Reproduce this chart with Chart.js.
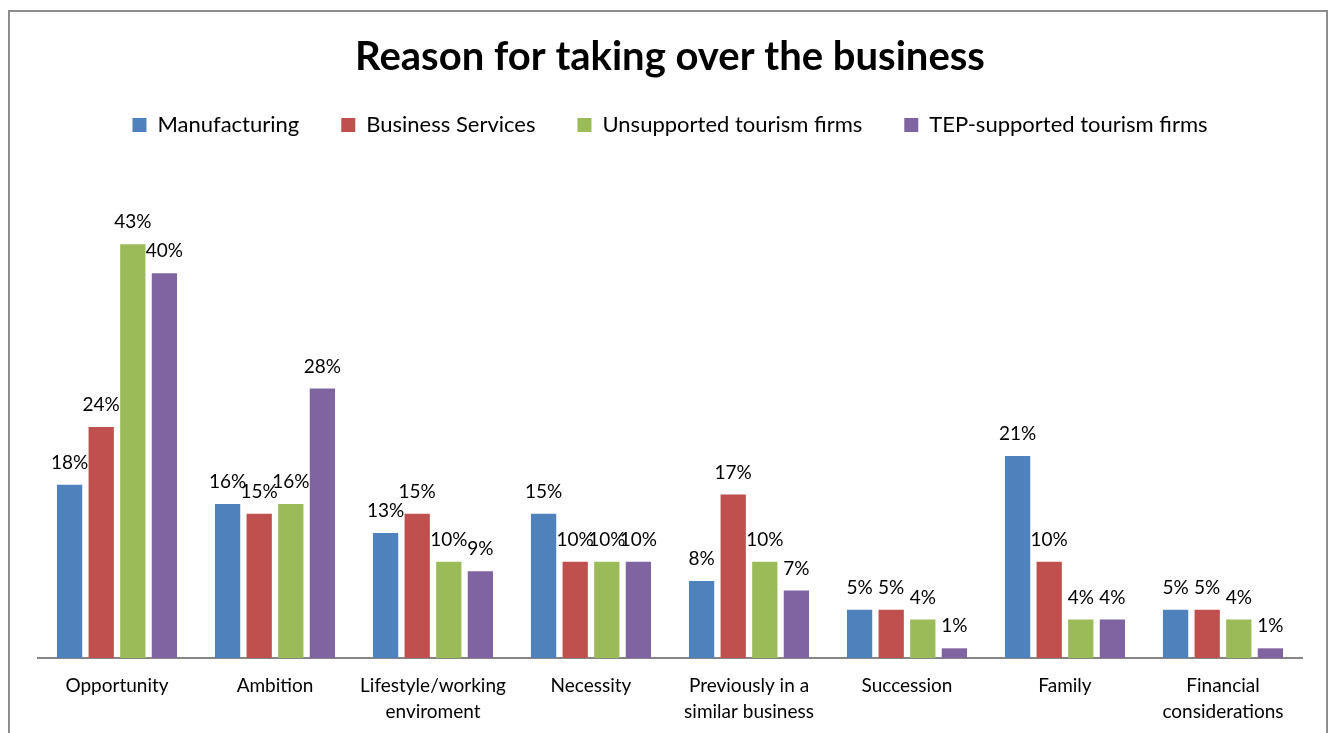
<!DOCTYPE html>
<html>
<head>
<meta charset="utf-8">
<script src="https://cdn.jsdelivr.net/npm/chart.js@4/dist/chart.umd.min.js"></script>
<style>
  html, body { margin: 0; padding: 0; background: #fff; }
</style>
</head>
<body>
<canvas id="chartRazones" width="1336" height="733"></canvas>
<script>
const categorias = [
    'Opportunity', 'Ambition', ['Lifestyle/working', 'enviroment'], 'Necessity',
    ['Previously in a', 'similar business'], 'Succession', 'Family', ['Financial', 'considerations']
];
const manufacturing = [18, 16, 13, 15, 8, 5, 21, 5];
const businessServices = [24, 15, 15, 10, 17, 5, 10, 5];
const unsupportedTourism = [43, 16, 10, 10, 10, 4, 4, 4];
const tepTourism = [40, 28, 9, 10, 7, 1, 4, 1];

const fuente = 'Lato, "Open Sans", sans-serif';

// marco gris alrededor del grafico
const marco = {
    id: 'marco',
    beforeDraw(chart) {
        const ctx = chart.ctx;
        ctx.save();
        ctx.strokeStyle = '#8c8c8c';
        ctx.lineWidth = 2;
        ctx.strokeRect(9, 11, 1318, 800);
        ctx.restore();
    }
};

// etiquetas de porcentaje encima de cada barra
const etiquetas = {
    id: 'etiquetas',
    afterDatasetsDraw(chart) {
        const ctx = chart.ctx;
        ctx.save();
        ctx.font = '19px ' + fuente;
        ctx.fillStyle = '#000';
        ctx.textAlign = 'center';
        ctx.textBaseline = 'middle';
        chart.data.datasets.forEach((ds, i) => {
            chart.getDatasetMeta(i).data.forEach((bar, j) => {
                ctx.fillText(ds.data[j] + '%', bar.x, bar.y - 22);
            });
        });
        ctx.restore();
    }
};

// espacio extra debajo de la leyenda
const espacioLeyenda = {
    id: 'espacioLeyenda',
    beforeInit(chart) {
        const fit = chart.legend.fit;
        chart.legend.fit = function () {
            fit.bind(chart.legend)();
            this.height += 31;
        };
    }
};

const chartRazones = new Chart(document.getElementById('chartRazones'), {
    type: 'bar',
    data: {
        labels: categorias,
        datasets: [
            { label: 'Manufacturing', data: manufacturing, backgroundColor: '#4F81BD' },
            { label: 'Business Services', data: businessServices, backgroundColor: '#C0504D' },
            { label: 'Unsupported tourism firms', data: unsupportedTourism, backgroundColor: '#9BBB59' },
            { label: 'TEP-supported tourism firms', data: tepTourism, backgroundColor: '#8064A2' }
        ]
    },
    options: {
        responsive: false,
        animation: false,
        devicePixelRatio: 1,
        layout: { padding: { left: 38, right: 34, top: 12, bottom: -7 } },
        datasets: { bar: { categoryPercentage: 0.8, barPercentage: 0.8 } },
        scales: {
            x: {
                grid: { display: false, drawTicks: false },
                border: { color: '#868686', width: 2 },
                ticks: {
                    color: '#000',
                    font: { family: fuente, size: 19, lineHeight: 1.37 },
                    padding: 15,
                    maxRotation: 0
                }
            },
            y: { display: false, min: 0, max: 50 }
        },
        plugins: {
            title: {
                display: true,
                text: 'Reason for taking over the business',
                color: '#000',
                font: { family: fuente, size: 40, weight: 'bold' },
                padding: { top: 21, bottom: -9 }
            },
            legend: {
                labels: {
                    color: '#000',
                    font: { family: fuente, size: 22 },
                    boxWidth: 14, boxHeight: 14, padding: 42
                }
            },
            tooltip: { enabled: false }
        }
    },
    plugins: [marco, etiquetas, espacioLeyenda]
});
</script>
</body>
</html>
